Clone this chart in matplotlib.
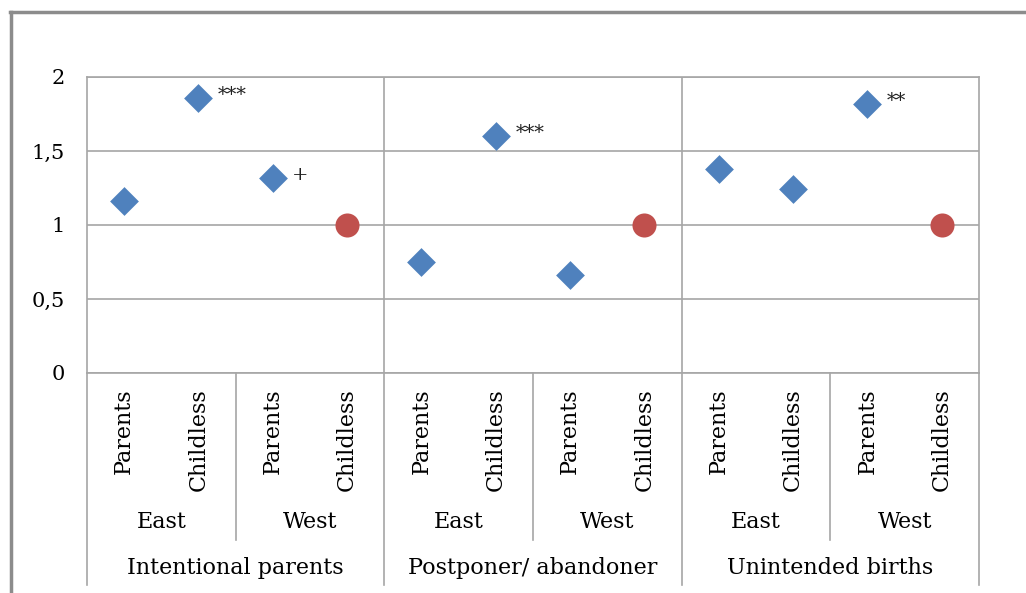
import matplotlib
matplotlib.use("Agg")
import matplotlib.pyplot as plt
from matplotlib.ticker import FuncFormatter

# Data
groups = ["Intentional parents", "Postponer/ abandoner", "Unintended births"]
regions = ["East", "West"]
statuses = ["Parents", "Childless"]

# odds ratios per category (group -> region -> status), reference category = 1
ratios = [1.16, 1.86, 1.32, 1.00,
          0.75, 1.60, 0.66, 1.00,
          1.38, 1.24, 1.82, 1.00]
is_reference = [False, False, False, True,
                False, False, False, True,
                False, False, False, True]
significance = ["", "***", "+", "",
                "", "***", "", "",
                "", "", "**", ""]

yticks = [0, 0.5, 1, 1.5, 2]

BLUE = "#4F81BD"
RED = "#C0504D"
GRID = "#A6A6A6"
FONT = "DejaVu Serif"
plt.rcParams["font.family"] = FONT

W, H = 1026, 593
fig = plt.figure(figsize=(W / 100, H / 100), dpi=100)
fig.patch.set_facecolor("white")

# plot area in pixel units
px_left, px_right, px_top, px_bottom = 87, 979, 77, 373
ax = fig.add_axes([px_left / W, 1 - px_bottom / H,
                   (px_right - px_left) / W, (px_bottom - px_top) / H])

n = len(ratios)
ax.set_xlim(0, n)
ax.set_ylim(0, 2)
ax.set_yticks(yticks)
ax.yaxis.set_major_formatter(FuncFormatter(lambda v, p: f"{v:g}".replace(".", ",")))
ax.tick_params(axis="y", length=0, pad=16, labelsize=15)
ax.set_xticks([])

for sp in ax.spines.values():
    sp.set_color(GRID)
    sp.set_linewidth(1.2)
ax.yaxis.grid(True, color=GRID, linewidth=1.2)
ax.set_axisbelow(True)

# vertical separators between main groups inside plot area
for g in range(1, len(groups)):
    ax.axvline(g * 4, color=GRID, linewidth=1.2, zorder=0)

xs = [i + 0.5 for i in range(n)]
for x, v, ref, sig in zip(xs, ratios, is_reference, significance):
    if ref:
        ax.scatter(x, v, s=300, marker="o", color=RED, zorder=3, linewidths=0)
    else:
        ax.scatter(x, v, s=215, marker="D", color=BLUE, zorder=3, linewidths=0)
    if sig:
        ax.annotate(sig, (x, v), xytext=(14, 2), textcoords="offset points",
                    ha="left", va="center", fontsize=14, color="#222222")

# multi-level category axis below the plot
tr = ax.get_xaxis_transform()
ph = px_bottom - px_top
def yfrac(py):
    return (px_bottom - py) / ph

y_status = yfrac(388)
y_region = yfrac(522)
y_group = yfrac(568)
y_sub_end = yfrac(540)
y_grp_end = yfrac(585)

for i, x in enumerate(xs):
    ax.text(x, y_status, statuses[i % 2], transform=tr, rotation=90,
            ha="center", va="top", fontsize=16, clip_on=False)

for r in range(len(groups) * len(regions)):
    ax.text(r * 2 + 1, y_region, regions[r % 2], transform=tr,
            ha="center", va="center", fontsize=16, clip_on=False)

for g, name in enumerate(groups):
    ax.text(g * 4 + 2, y_group, name, transform=tr,
            ha="center", va="center", fontsize=16, clip_on=False)

for b in range(0, n + 1, 2):
    end = y_grp_end if b % 4 == 0 else y_sub_end
    ax.plot([b, b], [0, end], transform=tr, color=GRID, linewidth=1.2,
            clip_on=False)

# outer chart frame (top and left edges)
fig.add_artist(plt.Line2D([10 / W, 1], [1 - 12 / H, 1 - 12 / H],
                          transform=fig.transFigure, color="#8C8C8C", linewidth=2.5))
fig.add_artist(plt.Line2D([11 / W, 11 / W], [0, 1 - 12 / H],
                          transform=fig.transFigure, color="#8C8C8C", linewidth=2.5))

fig.savefig("out.png", dpi=100, facecolor="white")
